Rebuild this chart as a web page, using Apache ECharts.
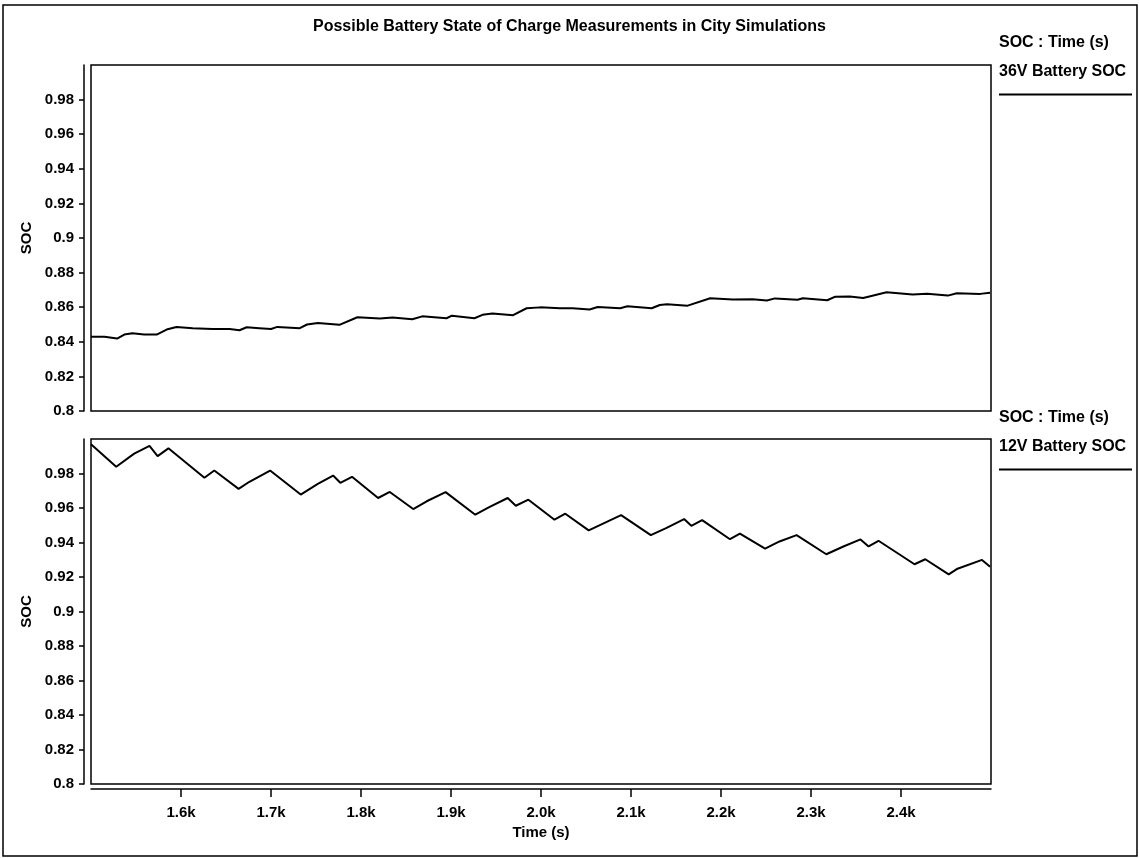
<!DOCTYPE html>
<html>
<head>
<meta charset="utf-8">
<title>Battery SOC</title>
<script src="https://cdn.jsdelivr.net/npm/echarts@6/dist/echarts.min.js"></script>
<style>
  html, body { margin: 0; padding: 0; background: #fff; }
  #chart { width: 1139px; height: 858px; }
</style>
</head>
<body>
<div id="chart"></div>
<script>
// 36V battery
const time36 = [1500, 1515, 1529, 1537, 1546, 1559, 1573, 1584, 1595, 1613, 1635, 1654, 1665, 1673, 1687, 1700,
  1707, 1732, 1740, 1752, 1776, 1796, 1821, 1835, 1857, 1868, 1895, 1901, 1926, 1935, 1946, 1969, 1984, 1999,
  2021, 2035, 2054, 2063, 2088, 2096, 2123, 2132, 2140, 2163, 2188, 2213, 2235, 2251, 2260, 2285, 2291, 2318,
  2327, 2343, 2358, 2384, 2413, 2429, 2452, 2462, 2488, 2499];
const soc36 = [0.8429, 0.8429, 0.8419, 0.8442, 0.8449, 0.8442, 0.8442, 0.8471, 0.8486, 0.8479, 0.8474, 0.8474,
  0.8467, 0.8484, 0.8479, 0.8474, 0.8486, 0.8479, 0.8500, 0.8509, 0.8498, 0.8542, 0.8534, 0.8540, 0.8530, 0.8547,
  0.8536, 0.8551, 0.8536, 0.8556, 0.8563, 0.8554, 0.8594, 0.8599, 0.8594, 0.8594, 0.8587, 0.8601, 0.8594, 0.8605,
  0.8594, 0.8613, 0.8617, 0.8609, 0.8652, 0.8645, 0.8646, 0.8639, 0.8651, 0.8643, 0.8652, 0.8640, 0.8661, 0.8662,
  0.8653, 0.8686, 0.8674, 0.8678, 0.8667, 0.8681, 0.8677, 0.8684];

// 12V battery, lower panel
const time12 = [1500, 1528, 1548, 1565, 1574, 1586, 1626, 1637, 1664, 1676, 1699, 1733, 1752, 1769, 1777, 1790,
  1819, 1832, 1858, 1873, 1894, 1927, 1943, 1963, 1972, 1986, 2015, 2027, 2053, 2089, 2122, 2139, 2159, 2167,
  2179, 2210, 2221, 2249, 2265, 2284, 2317, 2336, 2355, 2364, 2375, 2415, 2427, 2453, 2462, 2490, 2499];
const soc12 = [0.9969, 0.9839, 0.9915, 0.9960, 0.9901, 0.9946, 0.9775, 0.9817, 0.9711, 0.9752, 0.9817, 0.9678,
  0.9740, 0.9788, 0.9746, 0.9781, 0.9658, 0.9693, 0.9594, 0.9639, 0.9692, 0.9561, 0.9606, 0.9658, 0.9613, 0.9648,
  0.9532, 0.9567, 0.9470, 0.9559, 0.9443, 0.9483, 0.9536, 0.9497, 0.9530, 0.9419, 0.9452, 0.9365, 0.9406, 0.9443,
  0.9332, 0.9377, 0.9418, 0.9377, 0.9410, 0.9274, 0.9303, 0.9215, 0.9246, 0.9299, 0.9260];

const font = '"Liberation Sans", Arial, sans-serif';

const yAxisBase = (gridIndex) => ({
  type: 'value',
  gridIndex: gridIndex,
  min: 0.8,
  max: 1.0,
  interval: 0.02,
  offset: 7,
  name: 'SOC',
  nameLocation: 'middle',
  nameGap: 40,
  nameTextStyle: { color: '#000', fontWeight: 'bold', fontSize: 15, fontFamily: font },
  axisLine: { show: true, lineStyle: { color: '#000', width: 1.5 } },
  axisTick: { show: true, length: 5, lineStyle: { color: '#000', width: 1.5 } },
  axisLabel: { color: '#000', fontWeight: 'bold', fontSize: 15, fontFamily: font, margin: 10, showMaxLabel: false },
  splitLine: { show: false }
});

const option = {
  animation: false,
  backgroundColor: '#fff',
  title: {
    text: 'Possible Battery State of Charge Measurements in City Simulations',
    left: 'center',
    top: 14,
    textStyle: { color: '#000', fontWeight: 'bold', fontSize: 16, fontFamily: font }
  },
  grid: [
    { left: 91, width: 900, top: 65, height: 346, show: true, borderColor: '#000', borderWidth: 1.5 },
    { left: 91, width: 900, top: 439, height: 345, show: true, borderColor: '#000', borderWidth: 1.5 }
  ],
  xAxis: [
    {
      type: 'value', gridIndex: 0, min: 1500, max: 2500, interval: 100,
      axisLine: { show: false }, axisTick: { show: false }, axisLabel: { show: false }, splitLine: { show: false }
    },
    {
      type: 'value', gridIndex: 1, min: 1500, max: 2500, interval: 100,
      offset: 5,
      name: 'Time (s)',
      nameLocation: 'middle',
      nameGap: 36,
      nameTextStyle: { color: '#000', fontWeight: 'bold', fontSize: 15, fontFamily: font },
      axisLine: { show: true, lineStyle: { color: '#000', width: 1.5 } },
      axisTick: { show: true, length: 8, lineStyle: { color: '#000', width: 1.5 } },
      axisLabel: {
        color: '#000', fontWeight: 'bold', fontSize: 15, fontFamily: font, margin: 16,
        showMinLabel: false, showMaxLabel: false,
        formatter: v => (v / 1000).toFixed(1) + 'k'
      },
      splitLine: { show: false }
    }
  ],
  yAxis: [yAxisBase(0), yAxisBase(1)],
  series: [
    {
      name: '36V Battery SOC',
      type: 'line',
      xAxisIndex: 0, yAxisIndex: 0,
      data: time36.map((t, i) => [t, soc36[i]]),
      showSymbol: false,
      lineStyle: { color: '#000', width: 2 }
    },
    {
      name: '12V Battery SOC',
      type: 'line',
      xAxisIndex: 1, yAxisIndex: 1,
      data: time12.map((t, i) => [t, soc12[i]]),
      showSymbol: false,
      lineStyle: { color: '#000', width: 2 }
    }
  ],
  graphic: [
    // outer frame
    { type: 'rect', shape: { x: 3, y: 5, width: 1134, height: 851 }, style: { fill: 'none', stroke: '#000', lineWidth: 1.5 } },
    // legend, upper panel
    { type: 'text', left: 999, top: 35, style: { text: 'SOC : Time (s)', fill: '#000', font: 'bold 16px ' + font } },
    { type: 'text', left: 999, top: 64, style: { text: '36V Battery SOC', fill: '#000', font: 'bold 16px ' + font } },
    { type: 'line', shape: { x1: 999, y1: 94.5, x2: 1132, y2: 94.5 }, style: { stroke: '#000', lineWidth: 2 } },
    // legend, lower panel
    { type: 'text', left: 999, top: 410, style: { text: 'SOC : Time (s)', fill: '#000', font: 'bold 16px ' + font } },
    { type: 'text', left: 999, top: 439, style: { text: '12V Battery SOC', fill: '#000', font: 'bold 16px ' + font } },
    { type: 'line', shape: { x1: 999, y1: 469.5, x2: 1132, y2: 469.5 }, style: { stroke: '#000', lineWidth: 2 } }
  ]
};

const chart = echarts.init(document.getElementById('chart'));
chart.setOption(option);
</script>
</body>
</html>
